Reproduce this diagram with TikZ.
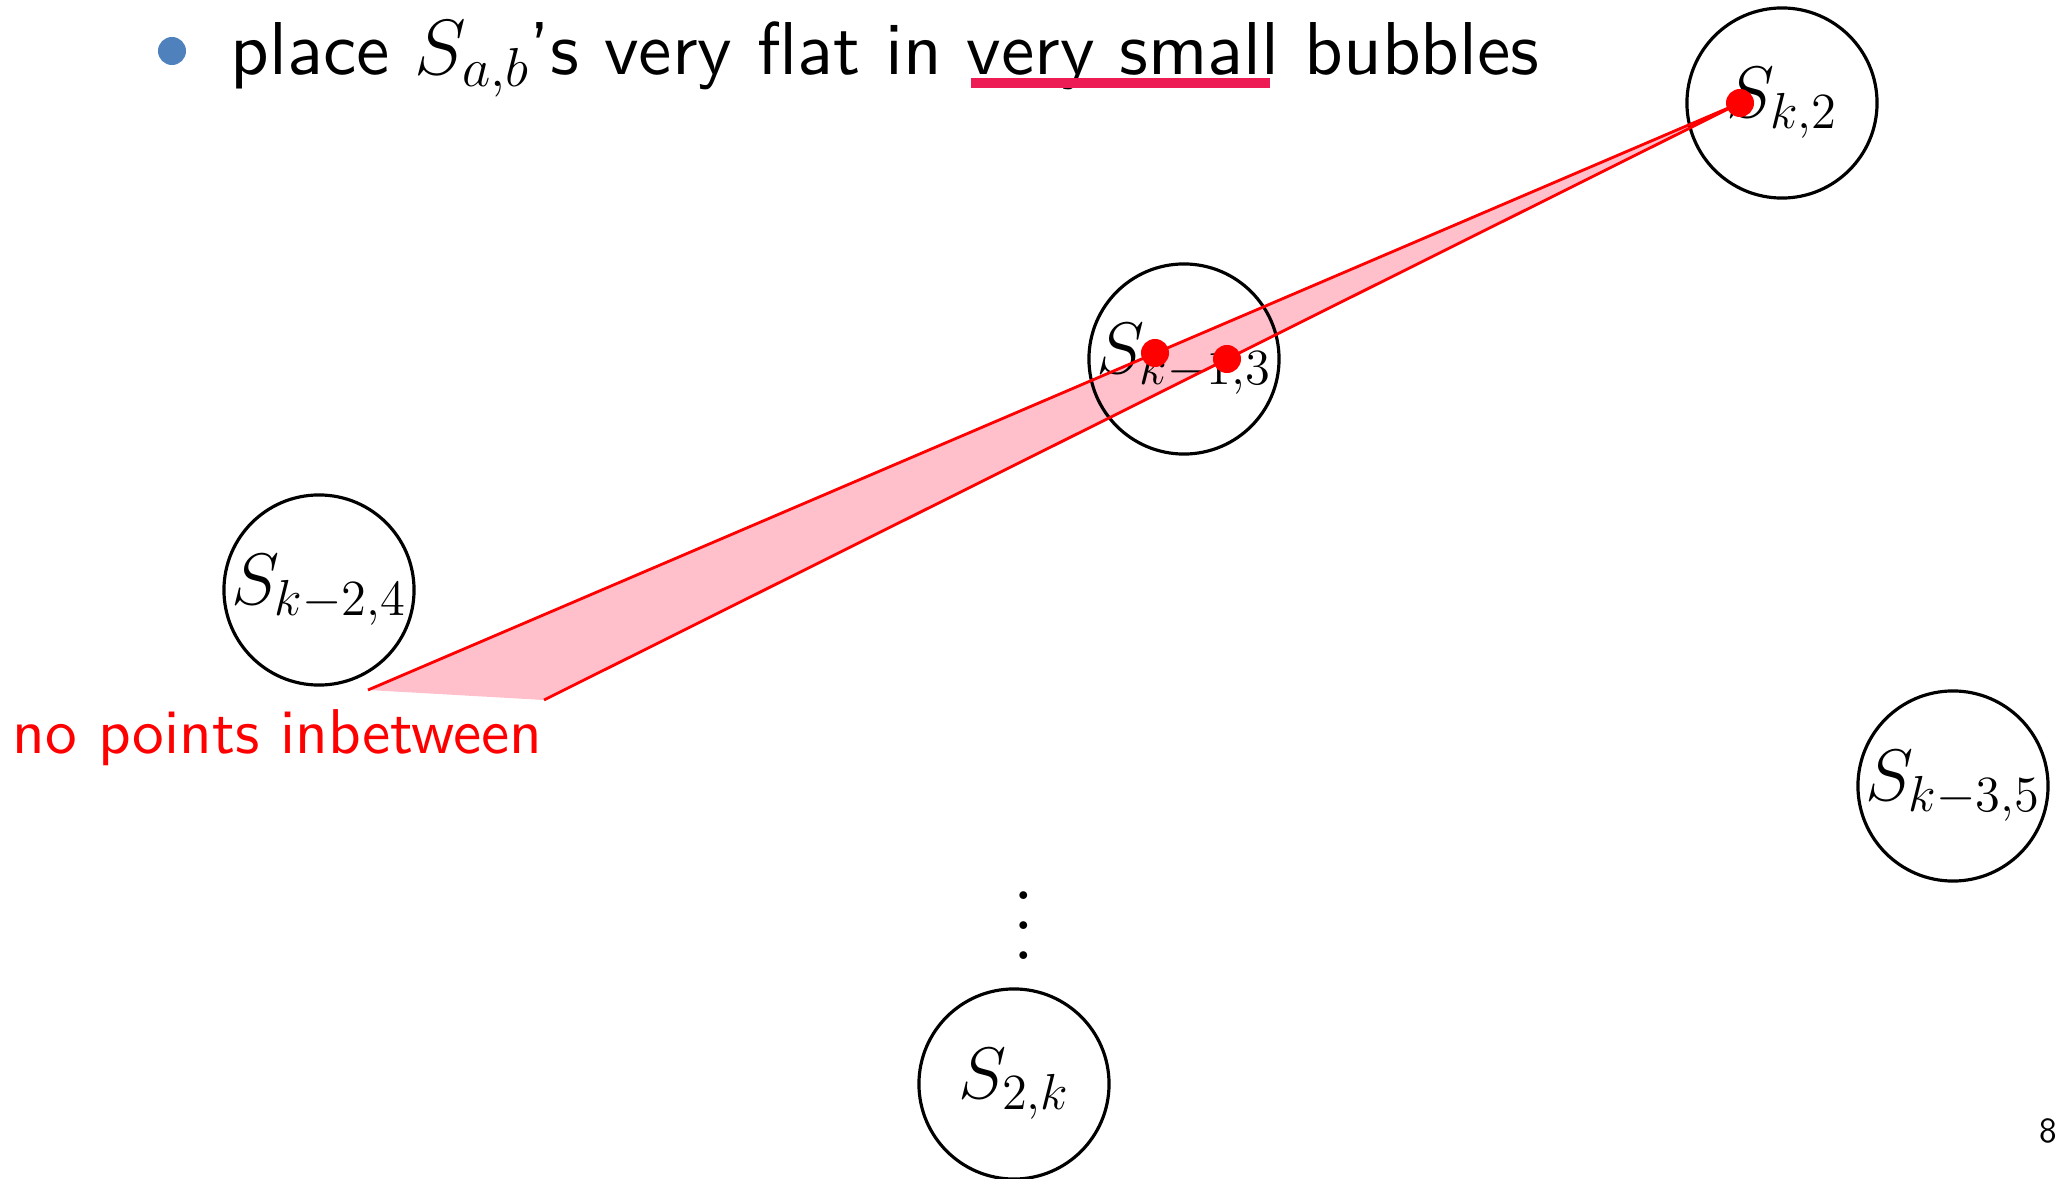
\RequirePackage{fix-cm}
\documentclass[tikz,border=0pt]{standalone}
\usepackage{amsmath, amssymb}
\usepackage{graphicx}
\usepackage{fontspec}
\usepackage[rgb]{xcolor}
\usepackage{tikz}
\usetikzlibrary{calc, positioning}
\newfontfamily\slidesans{lmsans10-regular.otf}
\definecolor{bulletblue}{RGB}{79,129,189}
\definecolor{ulred}{RGB}{237,28,84}
\definecolor{fillpink}{RGB}{255,192,203}
\newcommand{\slidefont}{\fontsize{21.3}{25}\selectfont\slidesans}
\newcommand{\notefont}{\fontsize{18}{22}\selectfont\slidesans}
\tikzset{>=latex}
\tikzset{bubble/.style={circle, draw, line width=0.9pt, minimum size=1.9cm,
    inner sep=0pt, label={[font=\fontsize{20.74}{25}\selectfont]center:#1}},
  reddot/.style={circle, fill=red, minimum size=0.28cm, inner sep=0pt},
  redline/.style={red, line width=0.8pt}}

\begin{document}
\begin{tikzpicture}[x=0.01cm, y=-0.01cm]
  \useasboundingbox (0,0) rectangle (2059,1179);
  % headline
  \node[circle, fill=bulletblue, minimum size=0.28cm, inner sep=0pt] (bullet) at (172,51) {};
  \node[anchor=base west, inner sep=0pt, font=\slidefont] (title) at (230,75)
    {place {\fontsize{22.3}{25}\selectfont$S_{a,b}$}’s very flat in very small bubbles};
  \fill[ulred] (971,78) rectangle (1270,88);
  % the flat triangle
  \coordinate (tip) at (1740,103);
  \coordinate (endA) at (368,690);
  \coordinate (endB) at (544,700);
  \fill[fillpink] (tip) -- (endA) -- (endB) -- cycle;
  % bubbles
  \node[bubble={$S_{k,2}$}] (s2) at (1782,103) {};
  \node[bubble={$S_{k-1,3}$}] (s3) at (1184,359) {};
  \node[bubble={$S_{k-2,4}$}] (s4) at (319,590) {};
  \node[bubble={$S_{k-3,5}$}] (s5) at (1953,786) {};
  \node[bubble={$S_{2,k}$}] (sk) at (1014,1084) {};
  \node[anchor=base, inner sep=0pt] (dots) at (1024,959) {\scalebox{2.1}{$\vdots$}};
  % points
  \draw[redline] (endA) -- (tip) -- (endB);
  \node[reddot] (p1) at (1155,353) {};
  \node[reddot] (p2) at (1227,359) {};
  \node[reddot] (p3) at (tip) {};
  \node[anchor=base west, inner sep=0pt, red, font=\notefont] (note) at (12,754)
    {no points inbetween};
  \node[anchor=base east, inner sep=0pt, font=\fontsize{10}{12}\selectfont\slidesans]
    (page) at (2058,1142) {8};
\end{tikzpicture}
\end{document}
